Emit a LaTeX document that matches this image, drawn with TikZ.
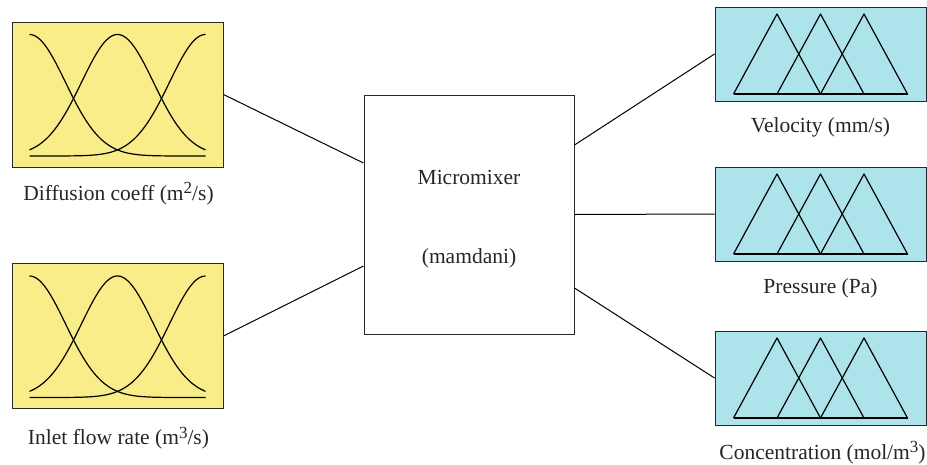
\documentclass[tikz,border=0pt]{standalone}
\usepackage{fontspec}
\setmainfont{Liberation Serif}
\usetikzlibrary{calc}
\definecolor{yfill}{RGB}{248,237,137}
\definecolor{bfill}{RGB}{173,228,236}
\definecolor{edge}{RGB}{40,40,40}
\newcommand{\supdigit}[1]{\raisebox{0.65ex}{\fontsize{17}{20}\selectfont #1}}
\tikzset{
  ybox/.style={draw=edge, line width=1pt, fill=yfill, minimum width=211pt, minimum height=145pt, inner sep=0pt},
  bbox/.style={draw=edge, line width=1pt, fill=bfill, minimum width=211pt, minimum height=94pt, inner sep=0pt},
  mbox/.style={draw=edge, line width=1pt, fill=white, minimum width=210pt, minimum height=239pt, inner sep=0pt},
  lbl/.style={font=\fontsize{21.5}{25}\selectfont, text=black!85, inner sep=0pt},
  curve/.style={draw=black, line width=1.2pt, line join=round},
  conn/.style={draw=black, line width=1pt},
  gaussians/.pic={
    \draw[curve] plot[domain=-88:88, samples=90, smooth] (\x, {61.5 - 121.5*exp(-((\x+88)/36)^2/2)});
    \draw[curve] plot[domain=-88:88, samples=90, smooth] (\x, {61.5 - 121.5*exp(-((\x)/36)^2/2)});
    \draw[curve] plot[domain=-88:88, samples=90, smooth] (\x, {61.5 - 121.5*exp(-((\x-88)/36)^2/2)});
  },
  triangles/.pic={
    \draw[curve] (-87,40) -- (-43.5,-40) -- (0,40);
    \draw[curve] (-43.5,40) -- (0,-40) -- (43.5,40);
    \draw[curve] (0,40) -- (43.5,-40) -- (87,40);
    \draw[curve] (-87,40) -- (87,40);
  }
}
\begin{document}
\begin{tikzpicture}[x=1pt, y=-1pt]
\useasboundingbox[fill=white] (0,0) rectangle (927,464);
% inputs
\node[ybox] (in1) at (117.5,94.5) {};
\node[ybox] (in2) at (117.5,336) {};
\pic at (in1.center) {gaussians};
\pic at (in2.center) {gaussians};
\node[lbl] (in1l) at ($(in1.south)+(1,26)$) {Diffusion coeff (m\supdigit{2}/s)};
\node[lbl] (in2l) at ($(in2.south)+(1,29)$) {Inlet flow rate (m\supdigit{3}/s)};
% center
\node[mbox] (mm) at (469,214.5) {};
\node[lbl] (mmt) at ($(mm.center)+(0,-37)$) {Micromixer};
\node[lbl] (mmb) at ($(mm.center)+(0,44)$) {(mamdani)};
% outputs
\node[bbox] (out1) at (820.5,54) {};
\node[bbox] (out2) at (820.5,214) {};
\node[bbox] (out3) at (820.5,378) {};
\pic at (out1.center) {triangles};
\pic at (out2.center) {triangles};
\pic at (out3.center) {triangles};
\node[lbl] (out1l) at ($(out1.south)+(0,26)$) {Velocity (mm/s)};
\node[lbl] (out2l) at ($(out2.south)+(0,27)$) {Pressure (Pa)};
\node[lbl] (out3l) at ($(out3.south)+(2,27)$) {Concentration (mol/m\supdigit{3})};
% connector ends on the center box
\coordinate (mmL1) at ($(mm.west)+(0,-51.5)$);
\coordinate (mmL2) at ($(mm.west)+(0,51.5)$);
\coordinate (mmR1) at ($(mm.east)+(0,-69.5)$);
\coordinate (mmR2) at (mm.east);
\coordinate (mmR3) at ($(mm.east)+(0,73.5)$);
\draw[conn] (in1.east) -- (mmL1);
\draw[conn] (in2.east) -- (mmL2);
\draw[conn] (mmR1) -- (out1.west);
\draw[conn] (mmR2) -- (out2.west);
\draw[conn] (mmR3) -- (out3.west);
\end{tikzpicture}
\end{document}
